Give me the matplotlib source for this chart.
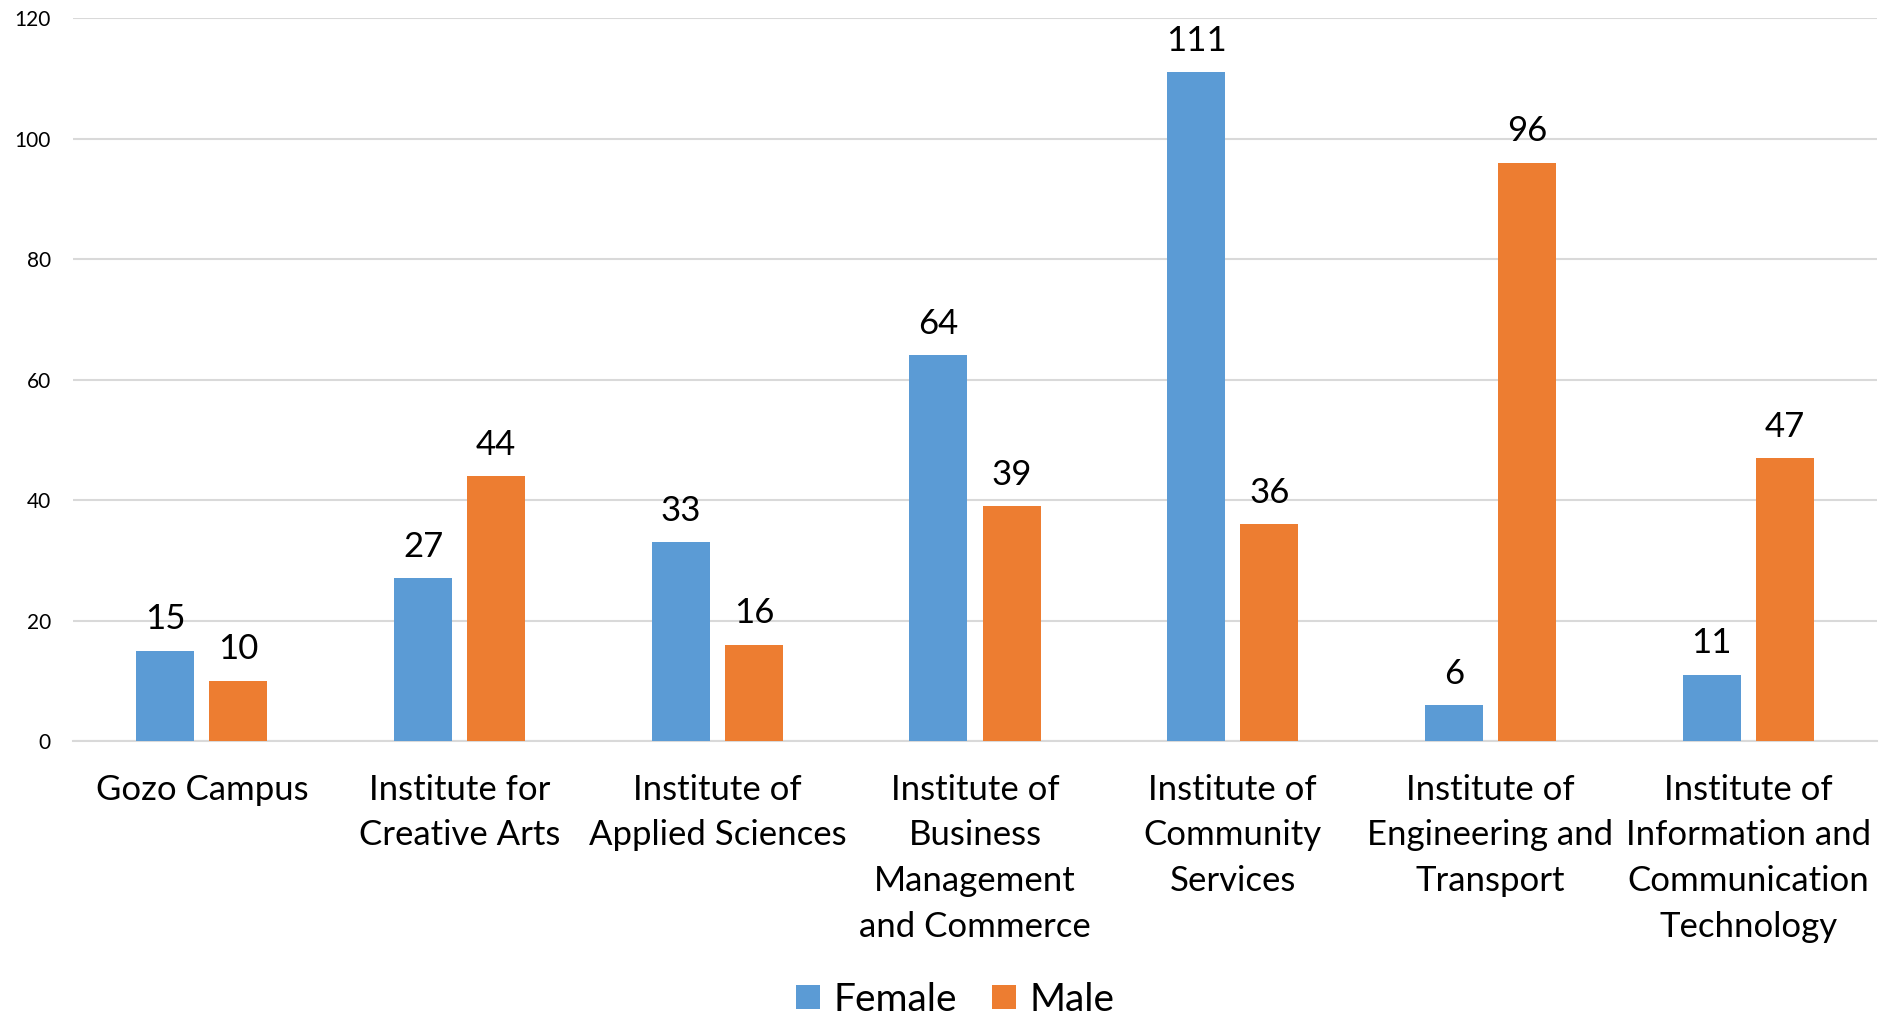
import numpy as np
import matplotlib
matplotlib.use('Agg')
import matplotlib.pyplot as plt

plt.rcParams['font.family'] = ['Lato', 'DejaVu Sans']

# данные с графика
categories = ['Gozo Campus',
              'Institute for\nCreative Arts',
              'Institute of\nApplied Sciences',
              'Institute of\nBusiness\nManagement\nand Commerce',
              'Institute of\nCommunity\nServices',
              'Institute of\nEngineering and\nTransport',
              'Institute of\nInformation and\nCommunication\nTechnology']
female = [15, 27, 33, 64, 111, 6, 11]
male = [10, 44, 16, 39, 36, 96, 47]
yticks = [0, 20, 40, 60, 80, 100, 120]

blue = '#5B9BD5'
orange = '#ED7D31'

fig = plt.figure(figsize=(18.92, 10.19), dpi=100)
ax = fig.add_axes([0.0386, 0.2728, 0.9535, 0.7095])

x = np.arange(len(categories))
w = 0.225      # ширина столбца
off = 0.142    # сдвиг от центра группы

b1 = ax.bar(x - off, female, w, color=blue, label='Female', zorder=3)
b2 = ax.bar(x + off, male, w, color=orange, label='Male', zorder=3)

# подписи над столбцами
for bars, vals in ((b1, female), (b2, male)):
    for b, v in zip(bars, vals):
        ax.annotate(str(v), (b.get_x() + b.get_width() / 2, v),
                    xytext=(0, 11), textcoords='offset points',
                    ha='center', va='bottom', fontsize=25)

ax.set_xlim(-0.5, len(categories) - 0.5)
ax.set_ylim(0, 120)
ax.set_yticks(yticks)
ax.set_xticks(x)
ax.set_xticklabels(categories, fontsize=25, linespacing=1.53)
ax.tick_params(axis='y', labelsize=15, length=0, pad=16)
ax.tick_params(axis='x', length=0, pad=23.5)

ax.grid(axis='y', color='#d9d9d9', linewidth=1.5, zorder=0)
for s in ['top', 'right', 'left']:
    ax.spines[s].set_visible(False)
ax.spines['bottom'].set_color('#d9d9d9')
ax.spines['bottom'].set_linewidth(1.5)

fig.legend(handles=[b1, b2], labels=['Female', 'Male'], loc='center',
           bbox_to_anchor=(0.505, 0.019), ncol=2, frameon=False, fontsize=28,
           handlelength=0.6, handleheight=0.6, handletextpad=0.36,
           columnspacing=0.9)

fig.savefig('out.png', dpi=100)
